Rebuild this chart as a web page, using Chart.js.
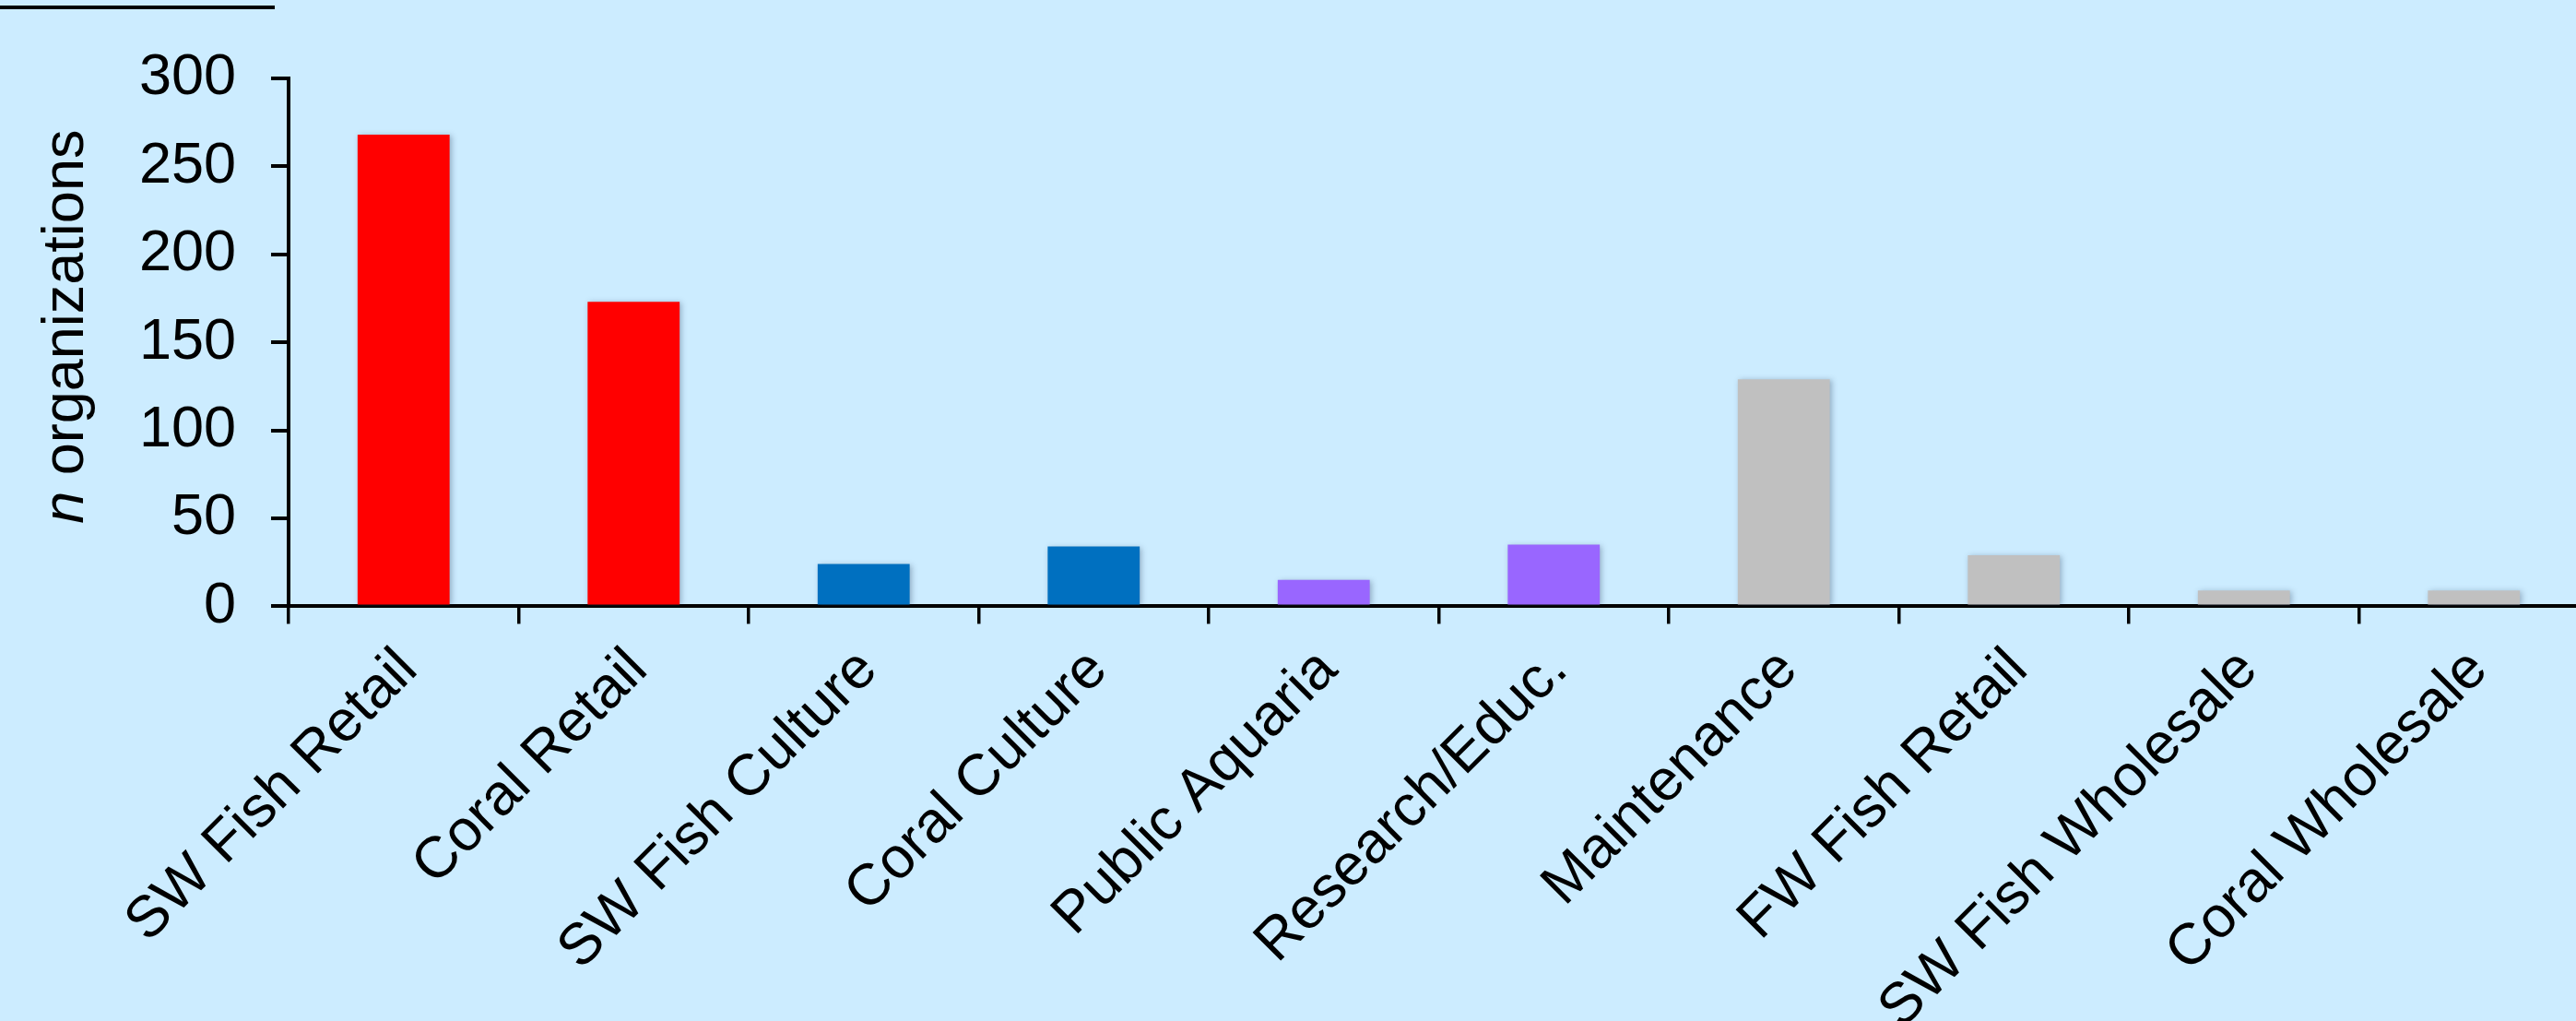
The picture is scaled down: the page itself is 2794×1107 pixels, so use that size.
<!DOCTYPE html>
<html><head><meta charset="utf-8">
<script src="https://cdn.jsdelivr.net/npm/chart.js@4/dist/chart.umd.min.js"></script>
<style>
html,body{margin:0;padding:0;background:#CCECFF;overflow:hidden;width:2794px;height:1107px;}
#wrap{position:absolute;left:0;top:0;width:2830px;height:1107px;}
</style></head><body>
<div id="wrap"><canvas id="c"></canvas></div>
<script>
const categories = ["SW Fish Retail","Coral Retail","SW Fish Culture","Coral Culture","Public Aquaria","Research/Educ.","Maintenance","FW Fish Retail","SW Fish Wholesale","Coral Wholesale"];
const organizations = [268,173,24,34,15,35,129,29,9,9];
const barColors = ["#FF0000","#FF0000","#0070C0","#0070C0","#9966FF","#9966FF","#C0C0C0","#C0C0C0","#C0C0C0","#C0C0C0"];
const yTicks = [0,50,100,150,200,250,300];
const yTitleItalic = "n";
const yTitleRest = " organizations";

const FONT = '"Liberation Sans", Arial, Helvetica, sans-serif';
const FS = 63;

const barShadow = {
  id: 'barShadow',
  beforeDatasetsDraw(chart){
    const ctx = chart.ctx; ctx.save();
    ctx.shadowColor = 'rgba(40,60,90,0.35)';
    ctx.shadowBlur = 6; ctx.shadowOffsetX = 2; ctx.shadowOffsetY = 1;
  },
  afterDatasetsDraw(chart){ chart.ctx.restore(); }
};

const yTitle = {
  id: 'yTitle',
  afterDraw(chart){
    const ctx = chart.ctx, y = chart.scales.y;
    const italic = 'italic ' + FS + 'px ' + FONT, normal = FS + 'px ' + FONT;
    ctx.save();
    ctx.fillStyle = '#000';
    ctx.font = italic; const w1 = ctx.measureText(yTitleItalic).width;
    ctx.font = normal; const w2 = ctx.measureText(yTitleRest).width;
    const total = w1 + w2;
    ctx.translate(y.left + 90, (y.top + y.bottom) / 2 - 17);
    ctx.rotate(-Math.PI / 2);
    ctx.textBaseline = 'alphabetic'; ctx.textAlign = 'left';
    ctx.font = italic; ctx.fillText(yTitleItalic, -total / 2, 0);
    ctx.font = normal; ctx.fillText(yTitleRest, -total / 2 + w1, 0);
    ctx.restore();
  }
};

const topRule = {
  id: 'topRule',
  afterDraw(chart){
    const ctx = chart.ctx;
    ctx.save();
    ctx.strokeStyle = '#000'; ctx.lineWidth = 4;
    ctx.beginPath(); ctx.moveTo(0, 8); ctx.lineTo(298, 8); ctx.stroke();
    ctx.restore();
  }
};

new Chart(document.getElementById('c'), {
  type: 'bar',
  data: {
    labels: categories,
    datasets: [{ data: organizations, backgroundColor: barColors, borderWidth: 0, barPercentage: 0.4, categoryPercentage: 1.0 }]
  },
  options: {
    responsive: true, maintainAspectRatio: false, animation: false,
    layout: { padding: { top: 85, left: 0, right: 22, bottom: 0 } },
    plugins: { legend: { display: false }, tooltip: { enabled: false }, title: { display: false } },
    scales: {
      x: {
        grid: { display: true, drawOnChartArea: false, drawTicks: true, tickLength: 19, color: '#000', lineWidth: 3.5, offset: true },
        border: { display: true, color: '#000', width: 4 },
        ticks: { color: '#000', font: { family: FONT, size: FS }, minRotation: 45, maxRotation: 45, autoSkip: false, padding: 13, labelOffset: 5 },
        afterFit(scale){ scale.height = 1107 - 657.4; scale.paddingLeft = 0; scale.paddingRight = 0; }
      },
      y: {
        min: 0, max: 300,
        afterBuildTicks(scale){ scale.ticks = yTicks.map(v => ({ value: v })); },
        grid: { display: true, drawOnChartArea: false, drawTicks: true, tickLength: 19, color: '#000', lineWidth: 4 },
        border: { display: true, color: '#000', width: 4 },
        ticks: { color: '#000', font: { family: FONT, size: FS }, padding: 38 },
        afterFit(scale){ scale.width = 313; scale.paddingTop = 0; scale.paddingBottom = 0; }
      }
    }
  },
  plugins: [barShadow, yTitle, topRule]
});
</script>
</body></html>
